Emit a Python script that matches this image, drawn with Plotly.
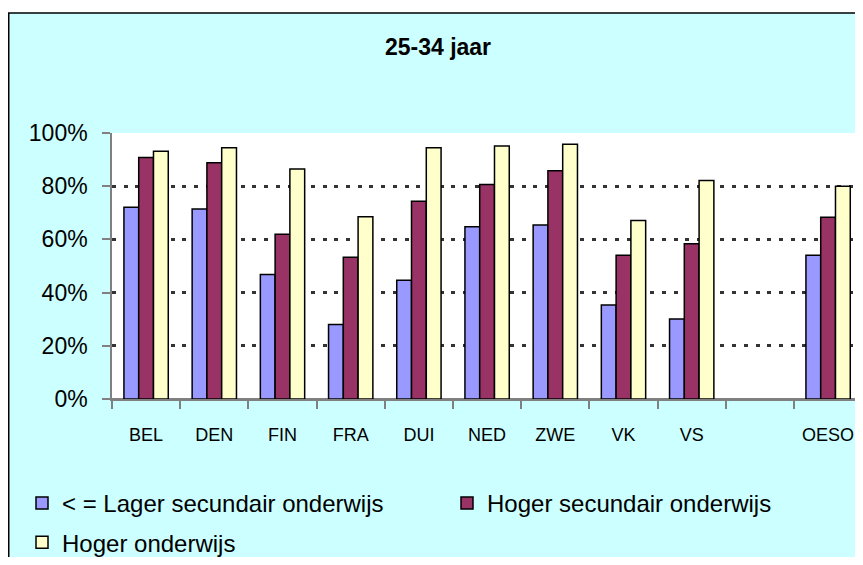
import plotly.graph_objects as go

categories = ["BEL", "DEN", "FIN", "FRA", "DUI", "NED", "ZWE", "VK", "VS", " ", "OESO"]
lager_secundair = [72.1, 71.4, 46.8, 28.0, 44.6, 64.8, 65.4, 35.3, 30.1, None, 54.0]
hoger_secundair = [90.8, 88.8, 61.9, 53.3, 74.3, 80.6, 85.8, 54.0, 58.4, None, 68.3]
hoger_onderwijs = [93.1, 94.5, 86.5, 68.5, 94.5, 95.1, 95.8, 67.1, 82.1, None, 80.0]
y_ticks = [0, 20, 40, 60, 80, 100]
y_tick_labels = ["0%", "20%", "40%", "60%", "80%", "100%"]
series_names = ["< = Lager secundair onderwijs", "Hoger secundair onderwijs", "Hoger onderwijs"]
title_text = "25-34 jaar"

# page has an 8px body margin; figure sized so that no scrollbars appear
W, H = 855, 549
L, T = 104, 125
PLOT_BOTTOM = 391
B = H - PLOT_BOTTOM
PW = W - L
PH = H - T - B
CAT_PX = 68.2

def px_x(p):
    return (p - L) / PW

def px_y(p):
    return (H - B - p) / PH

font_main = "Liberation Sans, Arial, sans-serif"

fig = go.Figure()
fig.add_trace(go.Bar(x=categories, y=lager_secundair, name=series_names[0],
                     marker=dict(color="#9999FF", line=dict(color="black", width=1.5)),
                     legend="legend", legendgroup="a"))
fig.add_trace(go.Bar(x=categories, y=hoger_secundair, name=series_names[1],
                     marker=dict(color="#993366", line=dict(color="black", width=1.5)),
                     legend="legend2", legendgroup="b"))
fig.add_trace(go.Bar(x=categories, y=hoger_onderwijs, name=series_names[2],
                     marker=dict(color="#FFFFCC", line=dict(color="black", width=1.5)),
                     legend="legend", legendgroup="c"))

shapes = [
    dict(type="rect", xref="paper", yref="paper", layer="below",
         x0=px_x(0.75), x1=px_x(W + 20), y0=px_y(H + 20), y1=px_y(5),
         fillcolor="#CCFFFF", line=dict(color="black", width=1.5)),
    dict(type="rect", xref="paper", yref="paper", layer="below",
         x0=0, x1=px_x(W + 20), y0=0, y1=1,
         fillcolor="white", line=dict(width=0)),
]

fig.update_layout(
    width=W, height=H,
    margin=dict(l=L, r=0, t=T, b=B, autoexpand=False),
    paper_bgcolor="white",
    plot_bgcolor="rgba(0,0,0,0)",
    shapes=shapes,
    barmode="group",
    bargap=0.35,
    bargroupgap=0,
    title=dict(text="<b>" + title_text + "</b>", x=430 / W, xref="container", xanchor="center",
               y=1 - 39 / H, yref="container", yanchor="middle",
               font=dict(family=font_main, size=23, color="black")),
    xaxis=dict(
        type="category", categoryorder="array", categoryarray=categories,
        range=[-0.5, -0.5 + PW / CAT_PX],
        showline=True, linecolor="#808080", linewidth=1.5,
        ticks="outside", tickson="boundaries", ticklen=8, tickcolor="#808080", tickwidth=1.5,
        showgrid=False,
        tickfont=dict(family=font_main, size=18, color="black"),
        ticklabelstandoff=19,
    ),
    yaxis=dict(
        range=[0, 100], tickmode="array", tickvals=y_ticks, ticktext=y_tick_labels,
        showline=True, linecolor="#808080", linewidth=1.5,
        ticks="outside", ticklen=8, tickcolor="#808080", tickwidth=1.5,
        showgrid=True, gridcolor="#333333", gridwidth=2.5, griddash="4px,7.7px",
        zeroline=True, zerolinecolor="#808080", zerolinewidth=1.5,
        tickfont=dict(family=font_main, size=23, color="black"),
        ticklabelstandoff=10,
    ),
    legend=dict(orientation="v", x=px_x(14), xanchor="left", y=px_y(473), yanchor="top",
                bgcolor="rgba(0,0,0,0)", borderwidth=0, traceorder="grouped", tracegroupgap=5,
                font=dict(family=font_main, size=24, color="black")),
    legend2=dict(orientation="v", x=px_x(439), xanchor="left", y=px_y(473), yanchor="top",
                 bgcolor="rgba(0,0,0,0)", borderwidth=0,
                 font=dict(family=font_main, size=24, color="black")),
    showlegend=True,
)

fig.write_html("out.html")
